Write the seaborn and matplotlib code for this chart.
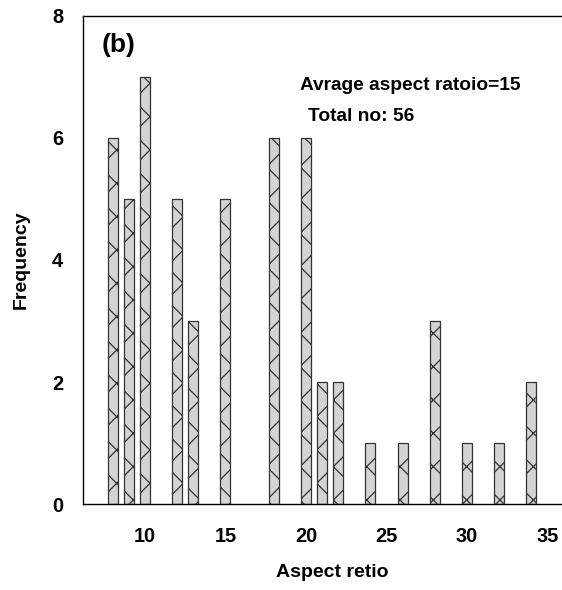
import matplotlib
matplotlib.use("Agg")
import matplotlib.pyplot as plt
import seaborn as sns
import numpy as np

# aspect ratio bins and their counts
aspect_ratio = [8, 9, 10, 12, 13, 15, 18, 20, 21, 22, 24, 26, 28, 30, 32, 34]
frequency = [6, 5, 7, 5, 3, 5, 6, 6, 2, 2, 1, 1, 3, 1, 1, 2]
x_ticks = [10, 15, 20, 25, 30, 35]
y_ticks = [0, 2, 4, 6, 8]

sns.set_style("white")
plt.rcParams["font.family"] = ["Liberation Sans", "DejaVu Sans"]
plt.rcParams["font.weight"] = "bold"
plt.rcParams["text.color"] = "black"
plt.rcParams["axes.labelcolor"] = "black"
plt.rcParams["hatch.linewidth"] = 0.9

fig = plt.figure(figsize=(5.62, 5.90), dpi=100)
ax = fig.add_axes([82.5 / 562, 85.7 / 590, 479.5 / 562, 488.6 / 590])

sns.barplot(x=aspect_ratio, y=frequency, native_scale=True, width=0.62,
            color="#d4d4d4", saturation=1, edgecolor="#333333",
            linewidth=0.9, ax=ax)
for bar in ax.patches:
    bar.set_hatch("x")

ax.set_xlim(6.12, 35.9)
ax.set_ylim(0, 8)
ax.set_xticks(x_ticks)
ax.set_yticks(y_ticks)
ax.tick_params(axis="both", direction="out", length=7, width=1, colors="black",
               labelsize=14.4)
ax.tick_params(axis="x", pad=9)
ax.tick_params(axis="y", pad=7)
for lab in ax.get_xticklabels() + ax.get_yticklabels():
    lab.set_fontweight("bold")

for side in ["left", "bottom", "top"]:
    ax.spines[side].set_visible(True)
    ax.spines[side].set_color("black")
    ax.spines[side].set_linewidth(1)
ax.spines["right"].set_visible(False)

ax.set_xlabel("Aspect retio", fontsize=14, fontweight="bold")
ax.set_ylabel("Frequency", fontsize=14, fontweight="bold")
ax.xaxis.set_label_coords(0.52, -0.122)
ax.xaxis.label.set_va("top")
ax.yaxis.set_label_coords(-0.11, 0.5)
ax.yaxis.label.set_va("bottom")

ax.text(0.04, 0.965, "(b)", transform=ax.transAxes, fontsize=19,
        fontweight="bold", va="top", ha="left")
ax.text(0.454, 0.848, "Avrage aspect ratoio=15", transform=ax.transAxes,
        fontsize=13.8, fontweight="bold", va="baseline", ha="left")
ax.text(0.470, 0.7845, "Total no: 56", transform=ax.transAxes,
        fontsize=13.8, fontweight="bold", va="baseline", ha="left")

fig.savefig("out.png", dpi=100)
